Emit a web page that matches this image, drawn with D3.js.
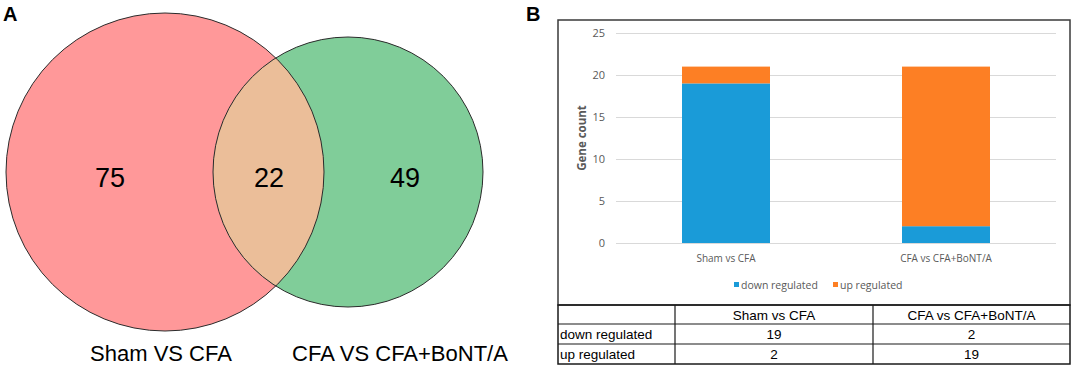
<!DOCTYPE html>
<html>
<head>
<meta charset="utf-8">
<script src="https://cdn.jsdelivr.net/npm/d3@7"></script>
<style>
  body { margin: 0; background: #fff; }
  svg { display: block; }
</style>
</head>
<body>
<div id="chart-area"></div>
<script>
// venn data
var vennSets = ['Sham VS CFA', 'CFA VS CFA+BoNT/A']
var vennCounts = [75, 22, 49]   // left only, both, right only

// bar data
var categories = ['Sham vs CFA', 'CFA vs CFA+BoNT/A']
var downRegulated = [19, 2]
var upRegulated = [2, 19]
var seriesNames = ['down regulated', 'up regulated']
var yTicks = [0, 5, 10, 15, 20, 25]

var colors = { 'down regulated': '#1a9bd8', 'up regulated': '#fd7f24' }

var svg = d3.select('#chart-area').append('svg')
    .attr('width', 1072)
    .attr('height', 368)

// panel letters
svg.append('text').attr('x', 3).attr('y', 21)
    .attr('font-family', 'Liberation Sans, Arial, sans-serif')
    .attr('font-weight', 'bold').attr('font-size', '20px').text('A')
svg.append('text').attr('x', 526).attr('y', 21)
    .attr('font-family', 'Liberation Sans, Arial, sans-serif')
    .attr('font-weight', 'bold').attr('font-size', '20px').text('B')

// ---- Panel A: venn ----
var venn = svg.append('g')
var c1 = { x: 165, y: 172, r: 159 }
var c2 = { x: 348, y: 172, r: 135 }

var defs = svg.append('defs')
defs.append('clipPath').attr('id', 'clipLeft')
    .append('circle').attr('cx', c1.x).attr('cy', c1.y).attr('r', c1.r)

venn.append('circle').attr('cx', c1.x).attr('cy', c1.y).attr('r', c1.r)
    .attr('fill', '#ff9899')
venn.append('circle').attr('cx', c2.x).attr('cy', c2.y).attr('r', c2.r)
    .attr('fill', '#80cd99')
venn.append('circle').attr('cx', c2.x).attr('cy', c2.y).attr('r', c2.r)
    .attr('clip-path', 'url(#clipLeft)')
    .attr('fill', '#ebbe99')
venn.selectAll('circle.outline').data([c1, c2]).enter()
    .append('circle').attr('class', 'outline')
    .attr('cx', d => d.x).attr('cy', d => d.y).attr('r', d => d.r)
    .attr('fill', 'none').attr('stroke', '#2b2b2b').attr('stroke-width', 1)

var countX = [110, 269, 405]
venn.selectAll('text.count').data(vennCounts).enter()
    .append('text').attr('class', 'count')
    .attr('x', (d, i) => countX[i]).attr('y', 187)
    .attr('text-anchor', 'middle')
    .attr('font-family', 'Liberation Sans, Arial, sans-serif')
    .attr('font-size', '27px')
    .text(d => d)

var setX = [161, 400]
venn.selectAll('text.set').data(vennSets).enter()
    .append('text').attr('class', 'set')
    .attr('x', (d, i) => setX[i]).attr('y', 361)
    .attr('text-anchor', 'middle')
    .attr('font-family', 'Liberation Sans, Arial, sans-serif')
    .attr('font-size', '22px')
    .text(d => d)

// ---- Panel B: stacked bars ----
var box = { left: 558, top: 20, right: 1070, bottom: 305 }
var plot = { left: 616, right: 1056, top: 33, bottom: 243 }

var chart = svg.append('g')

var x = d3.scaleBand().domain(categories).range([plot.left, plot.right])
    .paddingInner(0.6).paddingOuter(0.3)
var y = d3.scaleLinear().domain([0, 25]).range([plot.bottom, plot.top])

// gridlines + y axis labels
var yAxis = chart.append('g').attr('transform', `translate(${plot.left}, 0)`)
    .call(d3.axisLeft(y).tickValues(yTicks).tickSize(-(plot.right - plot.left)).tickPadding(11))
yAxis.select('.domain').remove()
yAxis.selectAll('.tick line').attr('stroke', '#d9d9d9')
yAxis.selectAll('.tick text')
    .attr('fill', '#595959')
    .attr('font-family', 'Open Sans, Lato, sans-serif')
    .attr('font-size', '11px')

var table = categories.map((c, i) => ({ cat: c, 'down regulated': downRegulated[i], 'up regulated': upRegulated[i] }))
var stacked = d3.stack().keys(seriesNames)(table)

chart.selectAll('g.layer').data(stacked).enter()
    .append('g').attr('class', 'layer')
    .attr('fill', d => colors[d.key])
  .selectAll('rect').data(d => d).enter()
    .append('rect')
    .attr('x', d => x(d.data.cat))
    .attr('width', x.bandwidth())
    .attr('y', d => y(d[1]))
    .attr('height', d => y(d[0]) - y(d[1]))

// category labels
chart.selectAll('text.cat').data(categories).enter()
    .append('text').attr('class', 'cat')
    .attr('x', d => x(d) + x.bandwidth() / 2)
    .attr('y', 262)
    .attr('text-anchor', 'middle')
    .attr('fill', '#595959')
    .attr('font-family', 'Open Sans, Lato, sans-serif')
    .attr('font-size', '10px')
    .text(d => d)

chart.append('text')
    .attr('transform', `translate(586, 138) rotate(-90)`)
    .attr('text-anchor', 'middle')
    .attr('fill', '#595959')
    .attr('font-family', 'Open Sans, Lato, sans-serif')
    .attr('font-weight', 'bold')
    .attr('font-size', '11.5px')
    .text('Gene count')

// legend
var legendX = [734, 833]
var legend = chart.selectAll('g.legend').data(seriesNames).enter()
    .append('g').attr('class', 'legend')
    .attr('transform', (d, i) => `translate(${legendX[i]}, 285)`)
legend.append('rect').attr('x', 0).attr('y', -3).attr('width', 5).attr('height', 5)
    .attr('fill', d => colors[d])
legend.append('text').attr('x', 7).attr('y', 3.5)
    .attr('fill', '#595959')
    .attr('font-family', 'Open Sans, Lato, sans-serif')
    .attr('font-size', '10.5px')
    .text(d => d)

// chart frame
chart.append('rect')
    .attr('x', box.left).attr('y', box.top)
    .attr('width', box.right - box.left).attr('height', box.bottom - box.top)
    .attr('fill', 'none').attr('stroke', '#3a3a3a').attr('stroke-width', 1.5)

// ---- data table ----
var colEdges = [558, 675, 873, 1070]
var rowEdges = [305, 324, 344, 364]
var tg = svg.append('g')
tg.append('rect')
    .attr('x', colEdges[0]).attr('y', rowEdges[0])
    .attr('width', colEdges[3] - colEdges[0]).attr('height', rowEdges[3] - rowEdges[0])
    .attr('fill', 'none').attr('stroke', '#1a1a1a').attr('stroke-width', 1.5)
tg.selectAll('line.col').data(colEdges.slice(1, 3)).enter()
    .append('line').attr('class', 'col')
    .attr('x1', d => d).attr('x2', d => d)
    .attr('y1', rowEdges[0]).attr('y2', rowEdges[3])
    .attr('stroke', '#1a1a1a').attr('stroke-width', 1.2)
tg.selectAll('line.row').data(rowEdges.slice(1, 3)).enter()
    .append('line').attr('class', 'row')
    .attr('x1', colEdges[0]).attr('x2', colEdges[3])
    .attr('y1', d => d).attr('y2', d => d)
    .attr('stroke', '#1a1a1a').attr('stroke-width', 1.2)

var tfont = 'Liberation Sans, Arial, sans-serif'
var colMid = i => (colEdges[i] + colEdges[i + 1]) / 2

tg.selectAll('text.head').data(categories).enter()
    .append('text').attr('class', 'head')
    .attr('x', (d, i) => colMid(i + 1)).attr('y', rowEdges[0] + 14.5)
    .attr('text-anchor', 'middle')
    .attr('font-family', tfont).attr('font-size', '13.5px')
    .text(d => d)

var rows = [downRegulated, upRegulated]
rows.forEach((vals, r) => {
  var yy = rowEdges[r + 1] + 15
  tg.append('text').attr('x', colEdges[0] + 2).attr('y', yy)
      .attr('font-family', tfont).attr('font-size', '13.5px')
      .text(seriesNames[r])
  tg.selectAll('text.v' + r).data(vals).enter()
      .append('text').attr('class', 'v' + r)
      .attr('x', (d, i) => colMid(i + 1)).attr('y', yy)
      .attr('text-anchor', 'middle')
      .attr('font-family', tfont).attr('font-size', '13.5px')
      .text(d => d)
})
</script>
</body>
</html>
